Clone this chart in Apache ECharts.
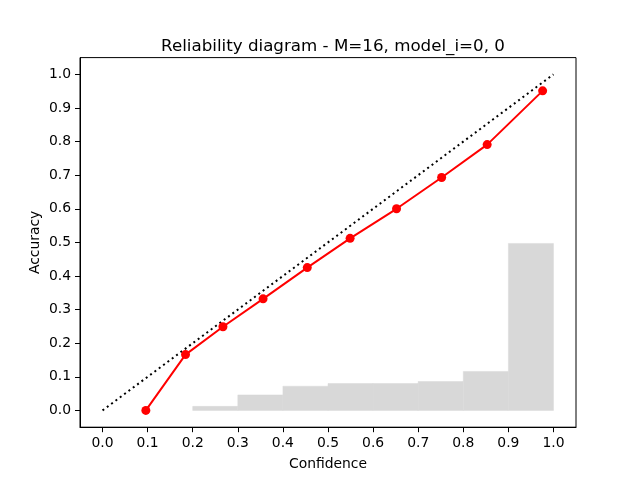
<!DOCTYPE html>
<html>
<head>
<meta charset="utf-8">
<title>Reliability diagram</title>
<script src="https://cdn.jsdelivr.net/npm/echarts@6/dist/echarts.min.js"></script>
<style>
  html, body { margin: 0; padding: 0; background: #fff; }
  #chart { width: 640px; height: 480px; }
</style>
</head>
<body>
<div id="chart"></div>
<script>
// tick values shared by both axes
var tickValues = [0.0, 0.1, 0.2, 0.3, 0.4, 0.5, 0.6, 0.7, 0.8, 0.9, 1.0];

// reliability curve (mean confidence, accuracy per bin)
var confX = [0.096, 0.184, 0.267, 0.356, 0.454, 0.549, 0.652, 0.752, 0.853, 0.976];
var accY  = [0.000, 0.166, 0.249, 0.332, 0.425, 0.512, 0.600, 0.693, 0.791, 0.951];

// perfect calibration diagonal
var diagX = [0.0, 1.0];
var diagY = [0.0, 1.0];

// histogram of samples per bin
var binLeft   = [0.2, 0.3, 0.4, 0.5, 0.6, 0.7, 0.8, 0.9];
var binWidth  = 0.1;
var binHeight = [0.012, 0.046, 0.072, 0.080, 0.080, 0.086, 0.116, 0.497];

var FONT = 'DejaVu Sans';

function zip(a, b){
	return a.map(function(v, i){ return [v, b[i]]; });
}

var chart = echarts.init(document.getElementById('chart'), null, {renderer: 'canvas'});

function valueAxis(name, gap){
	return {
		type: 'value',
		min: -0.05,
		max: 1.05,
		name: name,
		nameLocation: 'middle',
		nameGap: gap,
		nameMoveOverlap: false,
		nameTextStyle: { fontFamily: FONT, fontSize: 13.9, color: '#000' },
		axisLine: { show: true, onZero: false, lineStyle: { color: '#000', width: 1 } },
		axisTick: {
			show: true,
			inside: false,
			length: 5,
			lineStyle: { color: '#000', width: 1 },
			customValues: tickValues
		},
		axisLabel: {
			margin: 9,
			fontFamily: FONT,
			fontSize: 13.9,
			color: '#000',
			customValues: tickValues,
			formatter: function(v){ return v.toFixed(1); }
		},
		splitLine: { show: false }
	};
}

var option = {
	backgroundColor: '#fff',
	animation: false,
	title: {
		text: 'Reliability diagram - M=16, model_i=0, 0',
		left: 328,
		top: 33,
		textAlign: 'center',
		textStyle: { fontFamily: FONT, fontSize: 16.7, fontWeight: 'normal', color: '#000' }
	},
	grid: {
		left: 80,
		right: 64,
		top: 57.6,
		bottom: 52.8,
		show: true,
		borderColor: '#000',
		borderWidth: 1,
		backgroundColor: 'transparent'
	},
	xAxis: valueAxis('Confidence', 30),
	yAxis: valueAxis('Accuracy', 38),
	series: [
		{
			// histogram bars
			type: 'custom',
			z: 1,
			data: binLeft.map(function(x, i){ return [x, binHeight[i]]; }),
			renderItem: function(params, api){
				var x0 = api.value(0), h = api.value(1);
				var p0 = api.coord([x0, 0]);
				var p1 = api.coord([x0 + binWidth, h]);
				return {
					type: 'rect',
					shape: { x: p0[0], y: p1[1], width: p1[0] - p0[0], height: p0[1] - p1[1] },
					style: { fill: '#d8d8d8', stroke: '#d8d8d8', lineWidth: 0.5 }
				};
			}
		},
		{
			// diagonal
			type: 'line',
			z: 2,
			data: zip(diagX, diagY),
			showSymbol: false,
			symbol: 'none',
			lineStyle: { color: '#000', width: 2, type: [2, 3.4], cap: 'butt' }
		},
		{
			// reliability curve
			type: 'line',
			z: 3,
			data: zip(confX, accY),
			symbol: 'circle',
			symbolSize: 9,
			itemStyle: { color: '#ff0000' },
			lineStyle: { color: '#ff0000', width: 2 }
		}
	]
};

chart.setOption(option);
</script>
</body>
</html>
